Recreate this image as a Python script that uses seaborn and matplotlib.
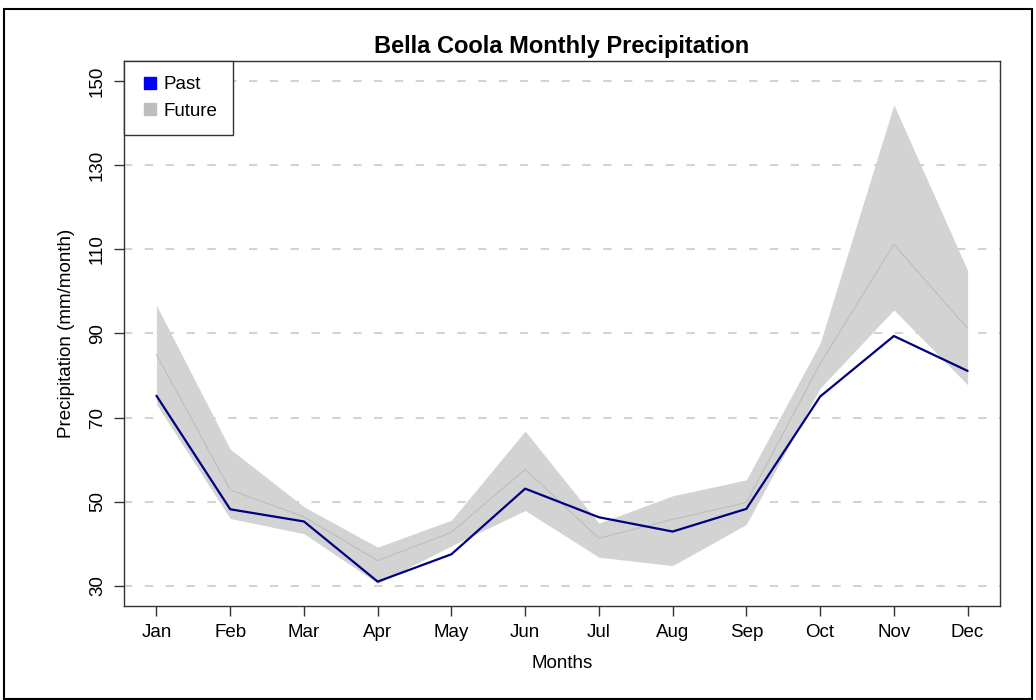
import matplotlib
matplotlib.use('Agg')
import matplotlib.pyplot as plt
import seaborn as sns
import pandas as pd
from matplotlib.patches import Rectangle
from matplotlib.lines import Line2D

# Monthly precipitation (mm/month)
months = ['Jan', 'Feb', 'Mar', 'Apr', 'May', 'Jun', 'Jul', 'Aug', 'Sep', 'Oct', 'Nov', 'Dec']
past = [75.2, 48.2, 45.3, 31.0, 37.5, 53.1, 46.3, 42.9, 48.3, 75.0, 89.4, 81.1]
future_mean = [85.0, 52.8, 46.4, 36.0, 42.7, 57.7, 41.3, 45.8, 49.8, 82.8, 111.2, 91.2]
future_upper = [96.7, 62.5, 48.8, 39.2, 45.6, 66.8, 44.9, 51.4, 55.2, 87.7, 144.4, 105.0]
future_lower = [73.2, 46.0, 42.4, 30.6, 39.5, 47.9, 36.8, 34.8, 44.6, 77.0, 95.6, 77.8]
yticks = [30, 50, 70, 90, 110, 130, 150]

df = pd.DataFrame({
    'month_num': range(1, 13),
    'month': months,
    'past': past,
    'future_mean': future_mean,
    'future_upper': future_upper,
    'future_lower': future_lower,
})

sns.set_style("white")
plt.rcParams['font.family'] = ['Liberation Sans', 'DejaVu Sans']
plt.rcParams['text.color'] = 'black'
plt.rcParams['axes.labelcolor'] = 'black'
plt.rcParams['xtick.color'] = 'black'
plt.rcParams['ytick.color'] = 'black'

fig = plt.figure(figsize=(10.36, 7.0), dpi=100)
ax = fig.add_axes([0.1197, 0.1343, 0.8456, 0.7786])

# dashed horizontal guides
for y in yticks:
    ax.axhline(y, color='#d3d3d3', lw=1.5, linestyle=(0, (4, 6)), zorder=0)

# future range band + mean
ax.fill_between(df['month_num'], df['future_lower'], df['future_upper'],
                color='#d3d3d3', lw=0, zorder=1)
sns.lineplot(data=df, x='month_num', y='future_mean', ax=ax, color='#bdbdbd',
             lw=0.8, zorder=2)
# past
sns.lineplot(data=df, x='month_num', y='past', ax=ax, color='#000080',
             lw=1.6, zorder=3)

ax.set_xlim(0.56, 12.44)
ax.set_ylim(25.2, 154.8)
ax.set_xticks(df['month_num'])
ax.set_xticklabels(months, fontsize=13.5)
ax.set_yticks(yticks)
ax.set_yticklabels([str(v) for v in yticks], fontsize=13.5, rotation=90, va='center')
ax.tick_params(axis='both', direction='out', length=7, width=1, color='#333333',
               bottom=True, left=True, pad=6)
ax.set_xlabel('Months', fontsize=13.5, labelpad=10)
ax.set_ylabel('Precipitation (mm/month)', fontsize=13.5, labelpad=10)
ax.set_title('Bella Coola Monthly Precipitation', fontsize=17, fontweight='bold', pad=6)

for s in ax.spines.values():
    s.set_visible(True)
    s.set_color('#333333')
    s.set_linewidth(1)

handles = [
    Line2D([], [], marker='s', linestyle='None', color='#0000ff', markersize=8),
    Line2D([], [], marker='s', linestyle='None', color='#bebebe', markersize=8),
]
leg = ax.legend(handles, ['Past', 'Future'], loc='upper left', borderaxespad=0,
                fontsize=13.5, frameon=True, fancybox=False, framealpha=1,
                handletextpad=0.2, borderpad=0.82, labelspacing=0.5, handlelength=1.1)
leg.get_frame().set_edgecolor('#333333')
leg.get_frame().set_linewidth(1)

# outer frame around the whole figure
fig.patches.append(Rectangle((0.004, 0.001), 0.992, 0.986, transform=fig.transFigure,
                             fill=False, edgecolor='black', lw=1.5))

fig.savefig('out.png', dpi=100)
